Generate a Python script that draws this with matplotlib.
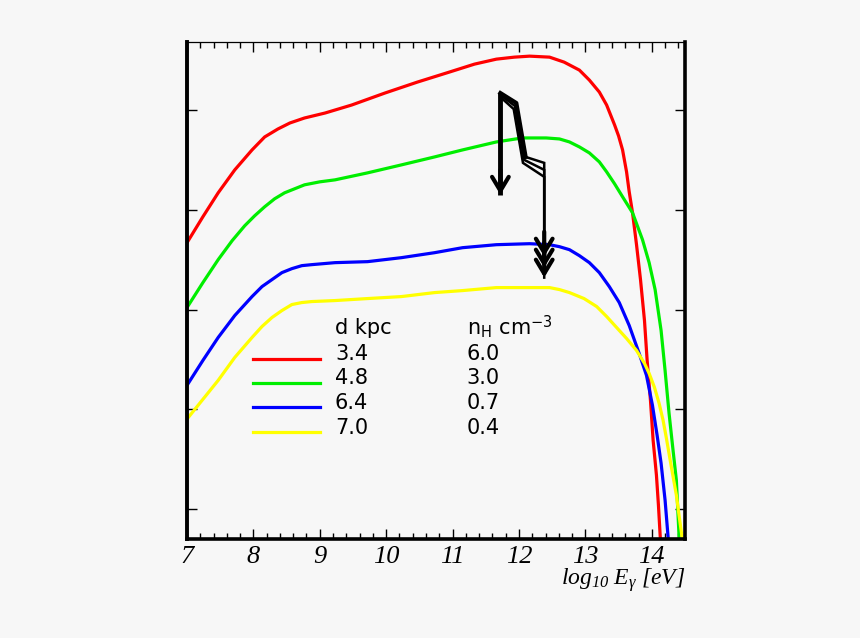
# plot_flux_vs_energy.py
#
# Gamma-ray spectra for four (distance, density) combinations, with the
# upper-limit arrows drawn on top. Y labels are left blank like the source.

import matplotlib.pyplot as plt

plt.rcParams['mathtext.fontset'] = 'custom'
plt.rcParams['mathtext.rm'] = 'Liberation Serif:italic'
plt.rcParams['mathtext.it'] = 'Liberation Serif:italic'
plt.rcParams['mathtext.fallback'] = 'stix'

# log10 E (eV) vs log10 flux (arbitrary offset)
red_x = [7.01, 7.24, 7.47, 7.72, 7.98, 8.17, 8.37, 8.55, 8.77, 9.08, 9.48, 9.98,
         10.47, 10.95, 11.33, 11.66, 11.93, 12.16, 12.46, 12.68, 12.91, 13.06,
         13.21, 13.32, 13.44, 13.50, 13.56, 13.62, 13.66, 13.71, 13.77, 13.83,
         13.89, 13.93, 13.98, 14.02, 14.07, 14.10, 14.13, 14.16]
red_y = [-10.32, -10.07, -9.83, -9.60, -9.40, -9.27, -9.19, -9.13, -9.08, -9.03,
         -8.95, -8.83, -8.72, -8.62, -8.54, -8.49, -8.47, -8.46, -8.47, -8.52,
         -8.60, -8.70, -8.82, -8.95, -9.15, -9.26, -9.40, -9.62, -9.82, -10.03,
         -10.35, -10.70, -11.11, -11.51, -11.91, -12.31, -12.66, -12.96, -13.31,
         -13.45]

green_x = [7.01, 7.24, 7.47, 7.68, 7.87, 8.02, 8.17, 8.32, 8.47, 8.62, 8.77, 9.00,
           9.23, 9.72, 10.23, 10.73, 11.15, 11.66, 12.05, 12.41, 12.61, 12.76,
           12.91, 13.06, 13.21, 13.32, 13.44, 13.56, 13.71, 13.86, 13.96, 14.05,
           14.14, 14.20, 14.26, 14.32, 14.37, 14.42]
green_y = [-10.97, -10.73, -10.50, -10.31, -10.16, -10.06, -9.97, -9.89, -9.83,
           -9.79, -9.75, -9.72, -9.70, -9.63, -9.55, -9.47, -9.40, -9.32, -9.28,
           -9.28, -9.29, -9.32, -9.37, -9.43, -9.52, -9.62, -9.74, -9.87, -10.03,
           -10.30, -10.53, -10.80, -11.21, -11.61, -12.04, -12.41, -12.71, -13.4]

blue_x = [7.01, 7.24, 7.47, 7.72, 7.98, 8.13, 8.28, 8.43, 8.58, 8.73, 8.88, 9.23,
          9.72, 10.23, 10.73, 11.15, 11.66, 12.16, 12.46, 12.61, 12.76, 12.91,
          13.06, 13.21, 13.36, 13.51, 13.66, 13.81, 13.92, 14.01, 14.08, 14.14,
          14.20, 14.26]
blue_y = [-11.75, -11.51, -11.28, -11.06, -10.87, -10.77, -10.70, -10.63, -10.59,
          -10.56, -10.55, -10.53, -10.52, -10.48, -10.43, -10.38, -10.35, -10.34,
          -10.35, -10.37, -10.40, -10.46, -10.53, -10.63, -10.77, -10.93, -11.16,
          -11.44, -11.66, -11.96, -12.26, -12.54, -12.91, -13.4]

yellow_x = [7.01, 7.24, 7.47, 7.72, 7.98, 8.13, 8.28, 8.43, 8.58, 8.73, 8.88, 9.23,
            9.72, 10.23, 10.73, 11.15, 11.66, 12.16, 12.46, 12.61, 12.76, 12.98,
            13.17, 13.32, 13.47, 13.62, 13.77, 13.89, 13.96, 14.04, 14.11, 14.17,
            14.22, 14.29, 14.37, 14.41, 14.48]
yellow_y = [-12.09, -11.90, -11.71, -11.48, -11.28, -11.17, -11.08, -11.01, -10.95,
            -10.93, -10.92, -10.91, -10.89, -10.87, -10.83, -10.81, -10.78, -10.78,
            -10.78, -10.80, -10.83, -10.89, -10.97, -11.07, -11.18, -11.29, -11.41,
            -11.54, -11.64, -11.78, -11.94, -12.11, -12.29, -12.56, -12.86, -13.06,
            -13.4]

d_kpc = ["3.4", "4.8", "6.4", "7.0"]
n_h = ["6.0", "3.0", "0.7", "0.4"]
colors = ["#ff0000", "#00ee00", "#0000ff", "#ffff00"]

# upper-limit arrows
left_arrow_x = [11.72, 11.72]
left_arrow_y = [-8.83, -9.85]
limit_paths_x = [
    [11.72, 11.96, 12.10, 12.38, 12.38],
    [11.72, 11.94, 12.08, 12.38, 12.38],
    [11.72, 11.92, 12.06, 12.38, 12.38],
]
limit_paths_y = [
    [-8.83, -8.93, -9.47, -9.53, -10.47],
    [-8.85, -8.96, -9.50, -9.60, -10.58],
    [-8.87, -8.99, -9.53, -9.67, -10.68],
]

fig = plt.figure(figsize=(8.6, 6.38), dpi=100, facecolor="#f7f7f7")
ax = fig.add_axes([0.2174, 0.1552, 0.5791, 0.779], facecolor="#f7f7f7")

series = [(red_x, red_y), (green_x, green_y), (blue_x, blue_y), (yellow_x, yellow_y)]
for (xs, ys), c in zip(series, colors):
    ax.plot(xs, ys, color=c, lw=2.3, solid_joinstyle="round")

# arrows
ax.plot(left_arrow_x, left_arrow_y, color="k", lw=3.5, solid_capstyle="butt")
for px, py in zip(limit_paths_x, limit_paths_y):
    ax.plot(px, py, color="k", lw=1.8, solid_joinstyle="miter")
ax.plot(limit_paths_x[0][:3], limit_paths_y[0][:3], color="k", lw=3.0)

heads = [(left_arrow_x[1], left_arrow_y[1])] + [(p[-1], q[-1]) for p, q in zip(limit_paths_x, limit_paths_y)]
for hx, hy in heads:
    ax.annotate("", xy=(hx, hy), xytext=(hx, hy + 0.25),
                arrowprops=dict(arrowstyle="->,head_length=0.5,head_width=0.3",
                                mutation_scale=20, lw=3.0, color="k",
                                shrinkA=0, shrinkB=0))

# legend table
row_y = [0.360, 0.311, 0.2616, 0.2113]
ax.text(0.297, 0.4125, "d kpc", transform=ax.transAxes, fontsize=15, va="baseline")
ax.text(0.562, 0.4125, r"n$_\mathregular{H}$ cm$^\mathregular{-3}$",
        transform=ax.transAxes, fontsize=15, va="baseline")
for i in range(4):
    ax.plot([0.1325, 0.267], [row_y[i] + 0.003] * 2, color=colors[i], lw=2.3,
            transform=ax.transAxes)
    ax.text(0.297, row_y[i], d_kpc[i], transform=ax.transAxes, fontsize=15, va="baseline")
    ax.text(0.562, row_y[i], n_h[i], transform=ax.transAxes, fontsize=15, va="baseline")

ax.set_xlim(7, 14.5)
ax.set_ylim(-13.3, -8.318)
ax.set_xticks(range(7, 15))
ax.set_xticks([7 + 0.2 * i for i in range(38)], minor=True)
ax.set_yticks([-13, -12, -11, -10, -9])
ax.set_yticklabels([])
ax.set_xticklabels([str(v) for v in range(7, 15)], fontsize=19,
                   family="Liberation Serif", style="italic")
ax.tick_params(axis="x", which="major", direction="in", length=7, width=1,
               top=True, pad=5)
ax.tick_params(axis="x", which="minor", direction="in", length=4, width=1, top=True)
ax.tick_params(axis="y", which="major", direction="in", length=7, width=1,
               right=True)

for side, w in [("left", 2.8), ("bottom", 2.6), ("right", 2.6), ("top", 0.9)]:
    ax.spines[side].set_linewidth(w)

ax.text(1.0, -0.082, r"$log_{10}\ E_{\gamma}\ [eV]$", transform=ax.transAxes,
        fontsize=17, ha="right", va="center")

plt.savefig("out.png", dpi=100, facecolor="#f7f7f7")
